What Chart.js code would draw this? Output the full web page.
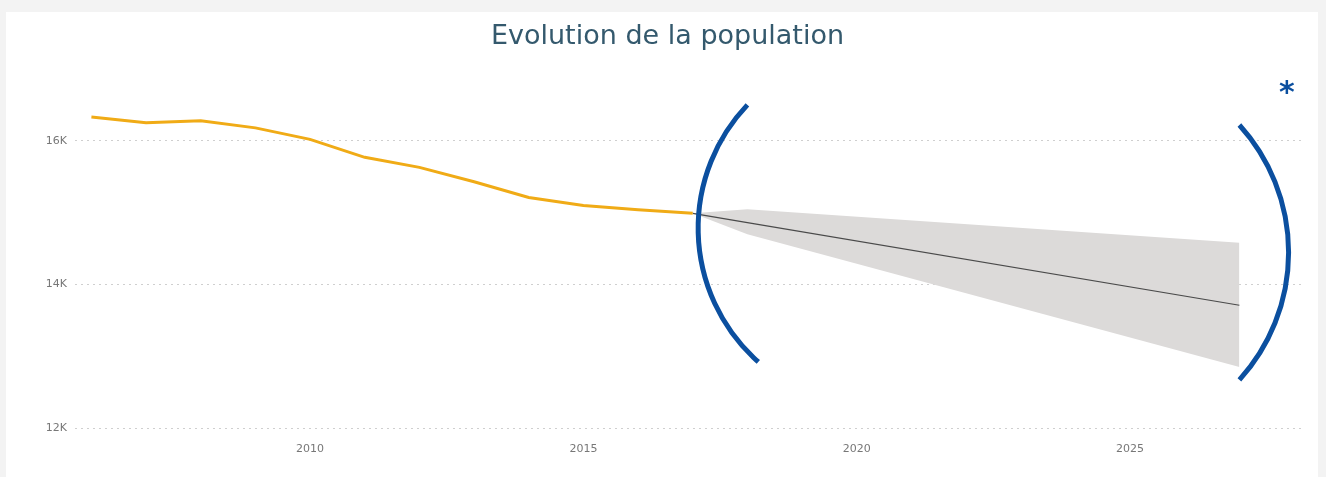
<!DOCTYPE html>
<html lang="fr">
<head>
<meta charset="UTF-8">
<title>Evolution de la population</title>
<script src="https://cdn.jsdelivr.net/npm/chart.js@4/dist/chart.umd.min.js"></script>
<style>
    body { margin: 0; background: #f3f3f3; }
    #card { position: absolute; left: 6px; top: 12px; width: 1312px; height: 470px; background: #fff; }
    #wrap { position: absolute; left: 0; top: 0; width: 1326px; height: 477px; }
</style>
</head>
<body>
<div id="card"></div>
<div id="wrap"><canvas id="popChart"></canvas></div>
<script>
// population observee
const years = [2006, 2007, 2008, 2009, 2010, 2011, 2012, 2013, 2014, 2015, 2016, 2017];
const population = [16330, 16250, 16280, 16180, 16020, 15770, 15630, 15430, 15210, 15100, 15040, 14990];

// prevision + intervalle de confiance
const forecastYears = [2017, 2018, 2027];
const forecast = [14990, 14860, 13710];
const upperBound = [14990, 15045, 14580];
const lowerBound = [14990, 14700, 12850];

// graduations
const xTicks = [2010, 2015, 2020, 2025];
const yTicks = [12000, 14000, 16000];

// annotation positions (in data units): parentheses + asterisk
const leftParen = [[2018, 16500], [2017.1, 14720], [2018.2, 12920]];
const rightParen = [[2027, 16220], [2027.9, 14450], [2027, 12670]];
const starPos = [2027.87, 16735];

const toXY = (xs, ys) => xs.map((x, i) => ({ x: x, y: ys[i] }));

// draws the blue brackets as circle arcs through three points
const annotations = {
    id: 'annotations',
    afterDatasetsDraw(chart) {
        const ctx = chart.ctx;
        const xs = chart.scales.x, ys = chart.scales.y;
        const px = p => [xs.getPixelForValue(p[0]), ys.getPixelForValue(p[1])];

        function arc3(pts, ccw) {
            const [a, b, c] = pts.map(px);
            const d = 2 * (a[0] * (b[1] - c[1]) + b[0] * (c[1] - a[1]) + c[0] * (a[1] - b[1]));
            const ux = ((a[0] ** 2 + a[1] ** 2) * (b[1] - c[1]) + (b[0] ** 2 + b[1] ** 2) * (c[1] - a[1]) + (c[0] ** 2 + c[1] ** 2) * (a[1] - b[1])) / d;
            const uy = ((a[0] ** 2 + a[1] ** 2) * (c[0] - b[0]) + (b[0] ** 2 + b[1] ** 2) * (a[0] - c[0]) + (c[0] ** 2 + c[1] ** 2) * (b[0] - a[0])) / d;
            const r = Math.hypot(a[0] - ux, a[1] - uy);
            ctx.beginPath();
            ctx.arc(ux, uy, r, Math.atan2(a[1] - uy, a[0] - ux), Math.atan2(c[1] - uy, c[0] - ux), ccw);
            ctx.stroke();
        }

        ctx.save();
        ctx.strokeStyle = '#0b4f9f';
        ctx.lineWidth = 5;
        arc3(leftParen, true);
        arc3(rightParen, false);
        const s = px(starPos);
        ctx.fillStyle = '#0b4f9f';
        ctx.font = 'bold 30px "DejaVu Sans"';
        ctx.textAlign = 'center';
        ctx.textBaseline = 'middle';
        ctx.fillText('*', s[0], s[1] + 6);
        ctx.restore();
    }
};

const tickFont = { family: 'DejaVu Sans', size: 11 };

new Chart(document.getElementById('popChart'), {
    type: 'line',
    data: {
        datasets: [
            {
                label: 'Population',
                data: toXY(years, population),
                borderColor: '#f0ab16',
                borderWidth: 3,
                pointRadius: 0,
                fill: false,
                order: 0
            },
            {
                label: 'Prévision',
                data: toXY(forecastYears, forecast),
                borderColor: '#4a4a4a',
                borderWidth: 1.2,
                pointRadius: 0,
                fill: false,
                order: 1
            },
            {
                label: 'Limite haute',
                data: toXY(forecastYears, upperBound),
                borderWidth: 0,
                pointRadius: 0,
                backgroundColor: '#dcdad9',
                fill: '+1',
                order: 2
            },
            {
                label: 'Limite basse',
                data: toXY(forecastYears, lowerBound),
                borderWidth: 0,
                pointRadius: 0,
                fill: false,
                order: 3
            }
        ]
    },
    options: {
        responsive: true,
        maintainAspectRatio: false,
        animation: false,
        layout: { padding: { left: 30, right: 21, top: 20, bottom: 0 } },
        scales: {
            x: {
                type: 'linear',
                min: 2005.7,
                max: 2028.2,
                grid: { display: false },
                border: { display: false },
                afterBuildTicks: s => { s.ticks = xTicks.map(v => ({ value: v })); },
                ticks: {
                    padding: 7,
                    color: '#777',
                    font: tickFont,
                    maxRotation: 0,
                    autoSkip: false,
                    callback: v => String(v)
                },
                afterFit: s => { s.height = 49; }
            },
            y: {
                min: 12000,
                max: 17000,
                grid: { color: '#cfcfcf', lineWidth: 1, drawTicks: false },
                border: { display: false, dash: [2, 4] },
                afterBuildTicks: s => { s.ticks = yTicks.map(v => ({ value: v })); },
                ticks: {
                    padding: 8,
                    color: '#777',
                    font: tickFont,
                    autoSkip: false,
                    callback: v => (v / 1000) + 'K'
                },
                afterFit: s => { s.width = 45; }
            }
        },
        plugins: {
            legend: { display: false },
            tooltip: { enabled: false },
            title: {
                display: true,
                text: 'Evolution de la population',
                color: '#34596d',
                font: { family: 'DejaVu Sans', size: 27, weight: 'normal', lineHeight: 1.2 },
                padding: { top: 0.3, bottom: 16.3 }
            }
        }
    },
    plugins: [annotations]
});
</script>
</body>
</html>
